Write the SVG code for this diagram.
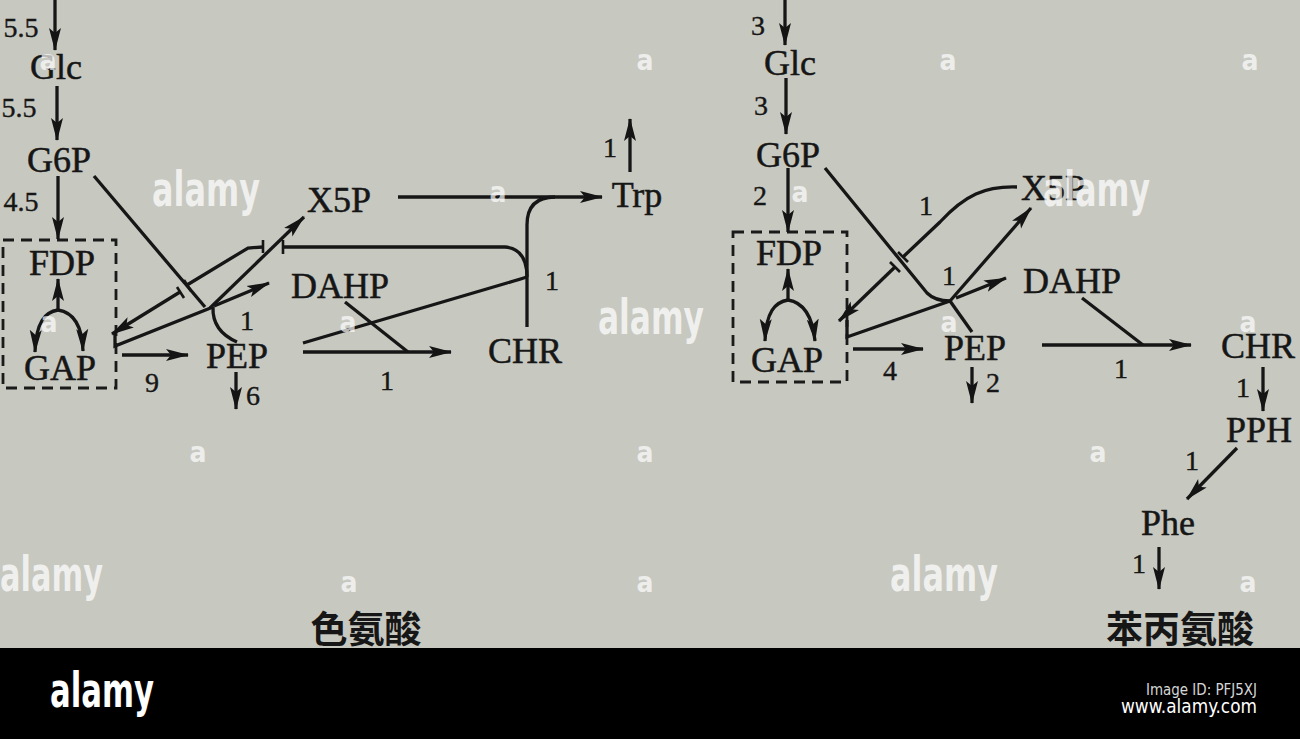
<svg xmlns="http://www.w3.org/2000/svg" width="1300" height="739" viewBox="0 0 1300 739">
<defs>
<marker id="ah" markerUnits="userSpaceOnUse" markerWidth="24" markerHeight="14" refX="22" refY="6.5" orient="auto">
<path d="M0,0.5 L23,6.5 L0,12.5 L5,6.5 Z" fill="#141414"/>
</marker>
</defs>
<style>
.n{font-family:"Liberation Serif","Times New Roman",serif;font-size:36px;fill:#161616;stroke:#161616;stroke-width:0.5;text-anchor:middle}
.l{font-family:"Liberation Serif","Times New Roman",serif;font-size:28px;fill:#161616;stroke:#161616;stroke-width:0.4;text-anchor:middle}
.c{fill:none;stroke:#161616;stroke-width:3.3}
.a{marker-end:url(#ah)}
.t{fill:none;stroke:#161616;stroke-width:2.6}
.box{fill:none;stroke:#1a1a1a;stroke-width:2.8;stroke-dasharray:11 7}
.cn{font-family:"Noto Sans CJK SC",sans-serif;font-size:37px;font-weight:bold;fill:#161616;text-anchor:middle}
.wm{font-family:"DejaVu Sans Condensed","DejaVu Sans",sans-serif;font-weight:bold;fill:#ffffff;fill-opacity:0.72}
.wa{font-family:"DejaVu Sans Condensed","DejaVu Sans",sans-serif;font-weight:bold;font-size:28px;fill:#ffffff;fill-opacity:0.7;text-anchor:middle}
.ft{font-family:"DejaVu Sans Condensed","DejaVu Sans",sans-serif;fill:#ffffff}
</style>
<rect x="0" y="0" width="1300" height="739" fill="#c7c8c0"/>

<!-- LEFT: tryptophan -->
<g id="L-Glc"><text class="n" x="56" y="79">Glc</text></g>
<g id="L-G6P"><text class="n" x="59" y="172">G6P</text></g>
<g id="L-box"><rect class="box" x="3" y="240" width="113" height="148"/>
<g id="L-FDP"><text class="n" x="62" y="275">FDP</text></g>
<g id="L-GAP"><text class="n" x="60" y="380">GAP</text></g></g>
<g id="L-PEP"><text class="n" x="237" y="368">PEP</text></g>
<g id="L-X5P"><text class="n" x="339" y="212">X5P</text></g>
<g id="L-DAHP"><text class="n" x="340" y="298">DAHP</text></g>
<g id="L-CHR"><text class="n" x="525" y="363">CHR</text></g>
<g id="L-Trp"><text class="n" x="637" y="207">Trp</text></g>
<g id="L-title"><text class="cn" x="366" y="643">色氨酸</text></g>

<!-- RIGHT: phenylalanine -->
<g id="R-Glc"><text class="n" x="790" y="75">Glc</text></g>
<g id="R-G6P"><text class="n" x="788" y="167">G6P</text></g>
<g id="R-box"><rect class="box" x="733" y="232" width="114" height="150"/>
<g id="R-FDP"><text class="n" x="789" y="265">FDP</text></g>
<g id="R-GAP"><text class="n" x="787" y="372">GAP</text></g></g>
<g id="R-PEP"><text class="n" x="975" y="360">PEP</text></g>
<g id="R-X5P"><text class="n" x="1053" y="200">X5P</text></g>
<g id="R-DAHP"><text class="n" x="1072" y="293">DAHP</text></g>
<g id="R-CHR"><text class="n" x="1258" y="358">CHR</text></g>
<g id="R-PPH"><text class="n" x="1259" y="442">PPH</text></g>
<g id="R-Phe"><text class="n" x="1168" y="535">Phe</text></g>
<g id="R-title"><text class="cn" x="1180" y="643">苯丙氨酸</text></g>

<g id="connectors">
<!-- left -->
<path class="c a" d="M55,0 L55,50"/>
<path class="c a" d="M57,86 L57,140"/>
<path class="c a" d="M58,176 L58,239"/>
<path class="c a" d="M58,310 L58,279"/>
<path class="c a" d="M58,310 C45,312 36,322 35,352"/>
<path class="c a" d="M58,310 C71,312 82,322 83,351"/>
<path class="c a" d="M122,355 L188,355"/>
<path class="c a" d="M236,372 L236,409"/>
<path class="c" d="M94,176 L205,307"/>
<path class="c" d="M115,334 L115,346 L213,307"/>
<path class="c a" d="M210,308 L304,217"/>
<path class="c a" d="M214,306 L269,283"/>
<path class="c" d="M213,307 Q212,331 237,342"/>
<path class="c" d="M527,277 Q527,249 505,247 L283,247"/>
<path class="t" d="M283,240 L283,254"/>
<path class="t" d="M263,240 L263,253"/>
<path class="c" d="M263,247 L248,248 L187,285"/>
<path class="t" d="M184,280 L191,291"/>
<path class="t" d="M177,287 L184,298"/>
<path class="c a" d="M180,292 L112,334"/>
<path class="c" d="M303,343 L507,283 Q521,279 527,277"/>
<path class="c" d="M527,327 L527,225 Q527,197 555,197"/>
<path class="c a" d="M398,197 L602,197"/>
<path class="c a" d="M303,352 L451,352"/>
<path class="c" d="M345,302 L408,352"/>
<path class="c a" d="M630,172 L630,119"/>
<!-- right -->
<path class="c a" d="M785,0 L785,45"/>
<path class="c a" d="M786,78 L786,134"/>
<path class="c a" d="M788,168 L788,232"/>
<path class="c a" d="M788,300 L788,269"/>
<path class="c a" d="M788,300 C775,302 766,312 765,341"/>
<path class="c a" d="M788,300 C801,302 812,312 815,341"/>
<path class="c a" d="M853,349 L923,349"/>
<path class="c a" d="M972,367 L972,403"/>
<path class="c" d="M825,168 L927,293 Q935,301 950,301"/>
<path class="c" d="M847,320 L847,337 L950,301"/>
<path class="c a" d="M950,301 L1031,208"/>
<path class="c a" d="M956,298 L1006,278"/>
<path class="c" d="M950,301 L972,332"/>
<path class="c" d="M1017,187 C985,186 965,195 940,222 L903,257"/>
<path class="t" d="M898,252 L908,262"/>
<path class="t" d="M890,262 L900,272"/>
<path class="c a" d="M895,267 L839,321"/>
<path class="c a" d="M1042,345 L1191,345"/>
<path class="c" d="M1082,298 L1143,345"/>
<path class="c a" d="M1263,367 L1263,411"/>
<path class="c a" d="M1237,448 L1187,499"/>
<path class="c a" d="M1159,547 L1159,589"/>
</g>

<g id="labels">
<text class="l" x="21" y="37">5.5</text>
<text class="l" x="19" y="117">5.5</text>
<text class="l" x="21" y="211">4.5</text>
<text class="l" x="152" y="392">9</text>
<text class="l" x="253" y="405">6</text>
<text class="l" x="247" y="330">1</text>
<text class="l" x="387" y="390">1</text>
<text class="l" x="552" y="290">1</text>
<text class="l" x="610" y="157">1</text>
<text class="l" x="758" y="35">3</text>
<text class="l" x="761" y="115">3</text>
<text class="l" x="760" y="205">2</text>
<text class="l" x="890" y="380">4</text>
<text class="l" x="993" y="392">2</text>
<text class="l" x="926" y="215">1</text>
<text class="l" x="949" y="285">1</text>
<text class="l" x="1121" y="378">1</text>
<text class="l" x="1243" y="397">1</text>
<text class="l" x="1192" y="470">1</text>
<text class="l" x="1139" y="573">1</text>
</g>

<g id="watermark">
<text class="wm" x="152" y="206" font-size="48" textLength="108" lengthAdjust="spacingAndGlyphs">alamy</text>
<text class="wm" x="598" y="334" font-size="48" textLength="106" lengthAdjust="spacingAndGlyphs">alamy</text>
<text class="wm" x="1043" y="206" font-size="48" textLength="107" lengthAdjust="spacingAndGlyphs">alamy</text>
<text class="wm" x="0" y="591" font-size="48" textLength="103" lengthAdjust="spacingAndGlyphs">alamy</text>
<text class="wm" x="890" y="591" font-size="48" textLength="108" lengthAdjust="spacingAndGlyphs">alamy</text>
<text class="wa" x="48" y="70">a</text>
<text class="wa" x="645" y="70">a</text>
<text class="wa" x="948" y="70">a</text>
<text class="wa" x="1250" y="70">a</text>
<text class="wa" x="498" y="202">a</text>
<text class="wa" x="800" y="202">a</text>
<text class="wa" x="49" y="332">a</text>
<text class="wa" x="348" y="332">a</text>
<text class="wa" x="949" y="332">a</text>
<text class="wa" x="1248" y="332">a</text>
<text class="wa" x="198" y="462">a</text>
<text class="wa" x="645" y="462">a</text>
<text class="wa" x="1098" y="462">a</text>
<text class="wa" x="349" y="592">a</text>
<text class="wa" x="645" y="592">a</text>
<text class="wa" x="1248" y="592">a</text>
</g>

<g id="footer">
<rect x="0" y="648" width="1300" height="91" fill="#000000"/>
<text class="ft" x="50" y="707" font-size="48" font-weight="bold" textLength="104" lengthAdjust="spacingAndGlyphs">alamy</text>
<text class="ft" x="1146" y="695" font-size="16" fill-opacity="0.85" textLength="111" lengthAdjust="spacingAndGlyphs">Image ID: PFJ5XJ</text>
<text class="ft" x="1121" y="713" font-size="19" textLength="136" lengthAdjust="spacingAndGlyphs">www.alamy.com</text>
</g>
</svg>
